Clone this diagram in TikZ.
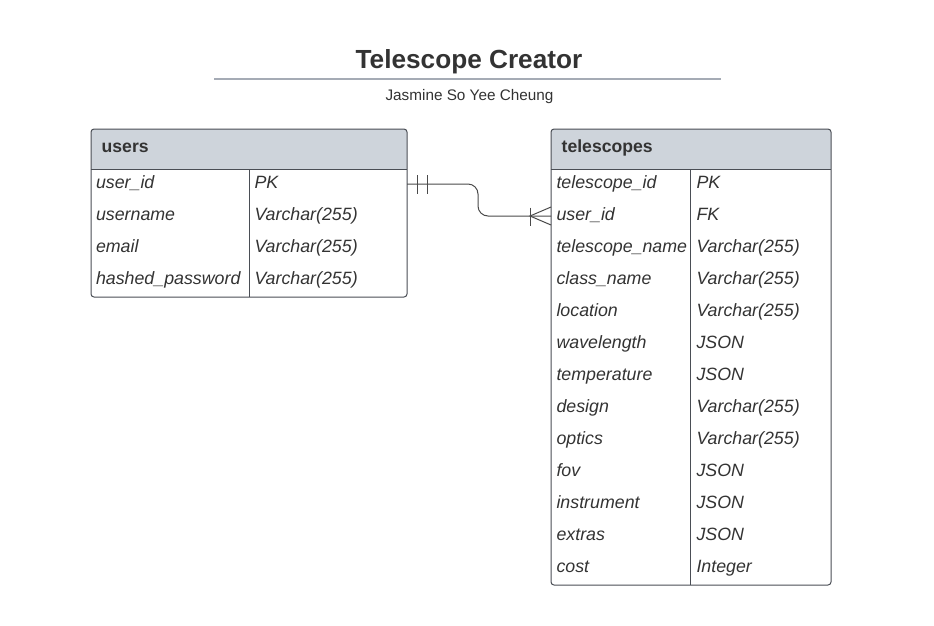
\documentclass[tikz,border=0pt]{standalone}
\usepackage{fontspec}
\setmainfont{Liberation Sans}
\definecolor{textcol}{HTML}{333333}
\definecolor{bordercol}{HTML}{4A4E55}
\definecolor{headcol}{HTML}{CED4DB}
\definecolor{rulecol}{HTML}{A5ABB5}
\definecolor{conncol}{HTML}{4A4A4A}
\begin{document}
\begin{tikzpicture}[x=1pt,y=-1pt,
  tbl/.style={draw=bordercol, line width=1pt, rounded corners=3pt, anchor=north west, inner sep=0pt, outer sep=0pt},
  sep/.style={draw=bordercol, line width=1pt},
  cell/.style={anchor=west, inner sep=0pt, outer sep=0pt, text height=12pt, text depth=0pt, text=textcol, font=\itshape\fontsize{17.8}{20}\selectfont},
  head/.style={anchor=base west, inner sep=0pt, text=textcol, font=\bfseries\fontsize{17.6}{20}\selectfont},
  conn/.style={draw=conncol, line width=1pt}]
\useasboundingbox (0,0) rectangle (934,625);
\fill[white] (0,0) rectangle (934,625);

% title
\node[anchor=base, inner sep=0pt, text=textcol, font=\bfseries\fontsize{26.2}{30}\selectfont] (title) at (469,68.5) {Telescope Creator};
\draw[rulecol, line width=1.5pt] (214,79) -- (721,79);
\node[anchor=base, inner sep=0pt, text=textcol, font=\fontsize{15.3}{18}\selectfont] (author) at (469.5,100) {Jasmine So Yee Cheung};

% users table
\begin{scope}
  \clip[rounded corners=3pt] (91,129) rectangle (407,297);
  \fill[headcol] (91,129) rectangle (407,169);
\end{scope}
\draw[sep] (91,169) -- (407,169);
\draw[sep] (249,169) -- (249,297);
\node[tbl, minimum width=316pt, minimum height=168pt] (users) at (91,129) {};
\node[head] (usershead) at (101.5,152) {users};
\foreach \n/\t [count=\i] in {user\_id/PK, username/Varchar(255), email/Varchar(255), hashed\_password/Varchar(255)}{
  \node[cell] (ur\i) at (96,150+32*\i) {\n};
  \node[cell] (uv\i) at (254.5,150+32*\i) {\t};
}

% telescopes table
\begin{scope}
  \clip[rounded corners=3pt] (551,129) rectangle (831,585);
  \fill[headcol] (551,129) rectangle (831,169);
\end{scope}
\draw[sep] (551,169) -- (831,169);
\draw[sep] (690.5,169) -- (690.5,585);
\node[tbl, minimum width=280pt, minimum height=456pt] (tele) at (551,129) {};
\node[head] (telehead) at (561.5,152) {telescopes};
\foreach \n/\t [count=\i] in {telescope\_id/PK, user\_id/FK, telescope\_name/Varchar(255), class\_name/Varchar(255), location/Varchar(255), wavelength/JSON, temperature/JSON, design/Varchar(255), optics/Varchar(255), fov/JSON, instrument/JSON, extras/JSON, cost/Integer}{
  \node[cell] (tr\i) at (556.5,150+32*\i) {\n};
  \node[cell] (tv\i) at (696.5,150+32*\i) {\t};
}

% relationship
\coordinate (cA) at (users.east |- 0,184);
\coordinate (cB) at (tele.west |- 0,216);
\draw[conn, rounded corners=10pt] (cA) -| (478,216) -- (cB);
% one (mandatory) end
\draw[conn] (417,175) -- (417,194);
\draw[conn] (427,175) -- (427,194);
% many end (crow's foot)
\draw[conn] (530,207.5) -- (530,225.5);
\draw[conn] (tele.west |- 0,207) -- (530,216) -- (tele.west |- 0,225);
\end{tikzpicture}
\end{document}
